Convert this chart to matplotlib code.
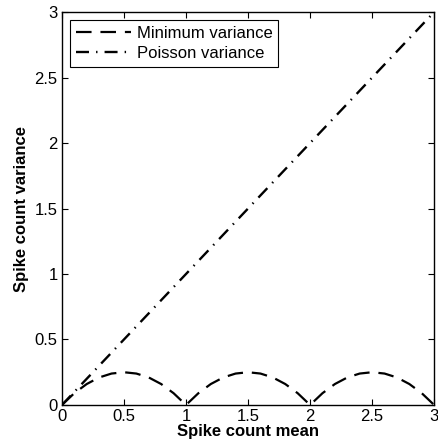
import matplotlib
matplotlib.use("Agg")
import matplotlib.pyplot as plt

plt.rcParams['font.family'] = ['Liberation Sans', 'DejaVu Sans']

# Spike count mean values
mean_vals = [0.0, 0.1, 0.2, 0.3, 0.4, 0.5, 0.6, 0.7, 0.8, 0.9,
             1.0, 1.1, 1.2, 1.3, 1.4, 1.5, 1.6, 1.7, 1.8, 1.9,
             2.0, 2.1, 2.2, 2.3, 2.4, 2.5, 2.6, 2.7, 2.8, 2.9, 3.0]
# minimum variance
min_var = [0.0, 0.09, 0.16, 0.21, 0.24, 0.25, 0.24, 0.21, 0.16, 0.09,
           0.0, 0.09, 0.16, 0.21, 0.24, 0.25, 0.24, 0.21, 0.16, 0.09,
           0.0, 0.09, 0.16, 0.21, 0.24, 0.25, 0.24, 0.21, 0.16, 0.09, 0.0]
# poisson variance (straight line)
poisson_x = [0.0, 3.0]
poisson_var = [0.0, 3.0]

ticks = [0, 0.5, 1, 1.5, 2, 2.5, 3]
tick_labels = ['0', '0.5', '1', '1.5', '2', '2.5', '3']

fig = plt.figure(figsize=(4.39, 4.47), dpi=100)
ax = fig.add_axes([0.141, 0.094, 0.848, 0.879])

ax.plot(mean_vals, min_var, color='black', linestyle=(0, (7, 4)), lw=1.6, label='Minimum variance')
ax.plot(poisson_x, poisson_var, color='black', linestyle=(0, (5.5, 3, 0.6, 3)), lw=1.7, label='Poisson variance')

ax.set_xlim(0, 3)
ax.set_ylim(0, 3)
ax.set_xticks(ticks)
ax.set_xticklabels(tick_labels)
ax.set_yticks(ticks)
ax.set_yticklabels(tick_labels)
ax.tick_params(direction='in', top=True, right=True, labelsize=12, length=4, width=0.8, pad=3)
for s in ax.spines.values():
    s.set_linewidth(1.0)

ax.set_xlabel('Spike count mean', fontsize=12, fontweight='bold', labelpad=0)
ax.set_ylabel('Spike count variance', fontsize=12, fontweight='bold', labelpad=4)

leg = ax.legend(loc='upper left', fontsize=12, fancybox=False, framealpha=1,
                edgecolor='black', handlelength=3.3, borderpad=0.35,
                labelspacing=0.3, handletextpad=0.35, borderaxespad=0.5)
leg.get_frame().set_linewidth(0.8)

fig.savefig('out.png', dpi=100)
